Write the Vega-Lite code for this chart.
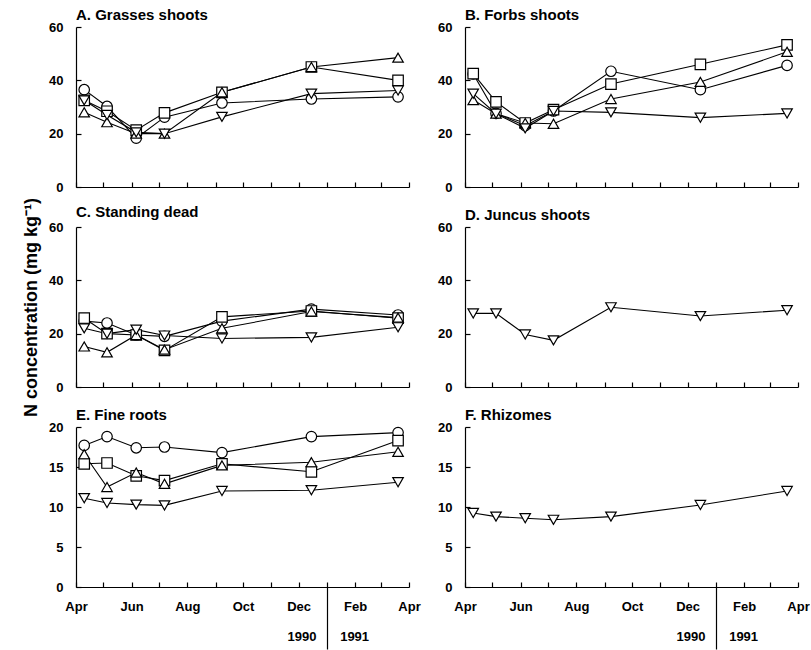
{
  "$schema": "https://vega.github.io/schema/vega-lite/v6.json",
  "padding": {"left": 22, "top": 8, "right": 0, "bottom": 0},
  "config": {
    "font": "Liberation Sans",
    "view": {"stroke": null},
    "axis": {"domainColor": "black", "domainWidth": 1.2, "tickColor": "black", "tickWidth": 1.2, "tickSize": 5, "labelColor": "black", "labelFont": "Liberation Sans", "labelFontSize": 13, "labelFontWeight": "bold", "labelPadding": 14, "grid": false, "labelOverlap": false, "labelFlush": false, "titleFont": "Liberation Sans", "titleFontSize": 18, "titleFontWeight": "bold", "titleColor": "black"},
    "title": {"anchor": "start", "frame": "group", "fontSize": 15, "fontWeight": "bold", "color": "black", "offset": -2, "font": "Liberation Sans"}
  },
  "bounds": "flush",
  "columns": 2,
  "spacing": {"row": 40, "column": 56},
  "data": {"values": [
    {"panel":"A","s":"S1","date":"1990-04-10","value":36.5},
    {"panel":"A","s":"S1","date":"1990-05-05","value":30.2},
    {"panel":"A","s":"S1","date":"1990-06-06","value":18.3},
    {"panel":"A","s":"S1","date":"1990-07-07","value":26.2},
    {"panel":"A","s":"S1","date":"1990-09-08","value":31.5},
    {"panel":"A","s":"S1","date":"1990-12-15","value":33},
    {"panel":"A","s":"S1","date":"1991-03-20","value":33.8},
    {"panel":"A","s":"S2","date":"1990-04-10","value":32.5},
    {"panel":"A","s":"S2","date":"1990-05-05","value":28.4},
    {"panel":"A","s":"S2","date":"1990-06-06","value":21.3},
    {"panel":"A","s":"S2","date":"1990-07-07","value":27.8},
    {"panel":"A","s":"S2","date":"1990-09-08","value":35.5},
    {"panel":"A","s":"S2","date":"1990-12-15","value":45},
    {"panel":"A","s":"S2","date":"1991-03-20","value":40},
    {"panel":"A","s":"S3","date":"1990-04-10","value":28},
    {"panel":"A","s":"S3","date":"1990-05-05","value":24.3},
    {"panel":"A","s":"S3","date":"1990-06-06","value":20},
    {"panel":"A","s":"S3","date":"1990-07-07","value":20},
    {"panel":"A","s":"S3","date":"1990-09-08","value":35.5},
    {"panel":"A","s":"S3","date":"1990-12-15","value":45},
    {"panel":"A","s":"S3","date":"1991-03-20","value":48.5},
    {"panel":"A","s":"S4","date":"1990-04-10","value":32.5},
    {"panel":"A","s":"S4","date":"1990-05-05","value":27},
    {"panel":"A","s":"S4","date":"1990-06-06","value":20.5},
    {"panel":"A","s":"S4","date":"1990-07-07","value":20},
    {"panel":"A","s":"S4","date":"1990-09-08","value":26.3},
    {"panel":"A","s":"S4","date":"1990-12-15","value":35},
    {"panel":"A","s":"S4","date":"1991-03-20","value":36.2},
    {"panel":"B","s":"S1","date":"1990-04-10","value":42.4},
    {"panel":"B","s":"S1","date":"1990-05-05","value":27.6},
    {"panel":"B","s":"S1","date":"1990-06-06","value":23},
    {"panel":"B","s":"S1","date":"1990-07-07","value":28.5},
    {"panel":"B","s":"S1","date":"1990-09-08","value":43.4},
    {"panel":"B","s":"S1","date":"1990-12-15","value":36.5},
    {"panel":"B","s":"S1","date":"1991-03-20","value":45.6},
    {"panel":"B","s":"S2","date":"1990-04-10","value":42.5},
    {"panel":"B","s":"S2","date":"1990-05-05","value":31.9},
    {"panel":"B","s":"S2","date":"1990-06-06","value":24},
    {"panel":"B","s":"S2","date":"1990-07-07","value":29},
    {"panel":"B","s":"S2","date":"1990-09-08","value":38.6},
    {"panel":"B","s":"S2","date":"1990-12-15","value":46},
    {"panel":"B","s":"S2","date":"1991-03-20","value":53.3},
    {"panel":"B","s":"S3","date":"1990-04-10","value":32.6},
    {"panel":"B","s":"S3","date":"1990-05-05","value":27.5},
    {"panel":"B","s":"S3","date":"1990-06-06","value":24},
    {"panel":"B","s":"S3","date":"1990-07-07","value":23.7},
    {"panel":"B","s":"S3","date":"1990-09-08","value":33},
    {"panel":"B","s":"S3","date":"1990-12-15","value":39.4},
    {"panel":"B","s":"S3","date":"1991-03-20","value":50.7},
    {"panel":"B","s":"S4","date":"1990-04-10","value":35},
    {"panel":"B","s":"S4","date":"1990-05-05","value":27.5},
    {"panel":"B","s":"S4","date":"1990-06-06","value":22},
    {"panel":"B","s":"S4","date":"1990-07-07","value":28.5},
    {"panel":"B","s":"S4","date":"1990-09-08","value":28},
    {"panel":"B","s":"S4","date":"1990-12-15","value":26},
    {"panel":"B","s":"S4","date":"1991-03-20","value":27.6},
    {"panel":"C","s":"S1","date":"1990-04-10","value":24.7},
    {"panel":"C","s":"S1","date":"1990-05-05","value":24},
    {"panel":"C","s":"S1","date":"1990-06-06","value":19.5},
    {"panel":"C","s":"S1","date":"1990-07-07","value":19},
    {"panel":"C","s":"S1","date":"1990-09-08","value":24.7},
    {"panel":"C","s":"S1","date":"1990-12-15","value":29.2},
    {"panel":"C","s":"S1","date":"1991-03-20","value":27},
    {"panel":"C","s":"S2","date":"1990-04-10","value":25.8},
    {"panel":"C","s":"S2","date":"1990-05-05","value":20},
    {"panel":"C","s":"S2","date":"1990-06-06","value":19.5},
    {"panel":"C","s":"S2","date":"1990-07-07","value":13.7},
    {"panel":"C","s":"S2","date":"1990-09-08","value":26.3},
    {"panel":"C","s":"S2","date":"1990-12-15","value":28.5},
    {"panel":"C","s":"S2","date":"1991-03-20","value":25.8},
    {"panel":"C","s":"S3","date":"1990-04-10","value":15.2},
    {"panel":"C","s":"S3","date":"1990-05-05","value":13},
    {"panel":"C","s":"S3","date":"1990-06-06","value":19.5},
    {"panel":"C","s":"S3","date":"1990-07-07","value":14},
    {"panel":"C","s":"S3","date":"1990-09-08","value":22},
    {"panel":"C","s":"S3","date":"1990-12-15","value":28.3},
    {"panel":"C","s":"S3","date":"1991-03-20","value":26},
    {"panel":"C","s":"S4","date":"1990-04-10","value":22},
    {"panel":"C","s":"S4","date":"1990-05-05","value":20},
    {"panel":"C","s":"S4","date":"1990-06-06","value":21.5},
    {"panel":"C","s":"S4","date":"1990-07-07","value":19.3},
    {"panel":"C","s":"S4","date":"1990-09-08","value":18.2},
    {"panel":"C","s":"S4","date":"1990-12-15","value":18.6},
    {"panel":"C","s":"S4","date":"1991-03-20","value":22.4},
    {"panel":"D","s":"S4","date":"1990-04-10","value":27.6},
    {"panel":"D","s":"S4","date":"1990-05-05","value":27.6},
    {"panel":"D","s":"S4","date":"1990-06-06","value":19.7},
    {"panel":"D","s":"S4","date":"1990-07-07","value":17.5},
    {"panel":"D","s":"S4","date":"1990-09-08","value":29.9},
    {"panel":"D","s":"S4","date":"1990-12-15","value":26.6},
    {"panel":"D","s":"S4","date":"1991-03-20","value":28.8},
    {"panel":"E","s":"S1","date":"1990-04-10","value":17.7},
    {"panel":"E","s":"S1","date":"1990-05-05","value":18.8},
    {"panel":"E","s":"S1","date":"1990-06-06","value":17.4},
    {"panel":"E","s":"S1","date":"1990-07-07","value":17.5},
    {"panel":"E","s":"S1","date":"1990-09-08","value":16.8},
    {"panel":"E","s":"S1","date":"1990-12-15","value":18.8},
    {"panel":"E","s":"S1","date":"1991-03-20","value":19.3},
    {"panel":"E","s":"S2","date":"1990-04-10","value":15.4},
    {"panel":"E","s":"S2","date":"1990-05-05","value":15.5},
    {"panel":"E","s":"S2","date":"1990-06-06","value":13.9},
    {"panel":"E","s":"S2","date":"1990-07-07","value":13.3},
    {"panel":"E","s":"S2","date":"1990-09-08","value":15.4},
    {"panel":"E","s":"S2","date":"1990-12-15","value":14.4},
    {"panel":"E","s":"S2","date":"1991-03-20","value":18.3},
    {"panel":"E","s":"S3","date":"1990-04-10","value":16.6},
    {"panel":"E","s":"S3","date":"1990-05-05","value":12.5},
    {"panel":"E","s":"S3","date":"1990-06-06","value":14.3},
    {"panel":"E","s":"S3","date":"1990-07-07","value":12.9},
    {"panel":"E","s":"S3","date":"1990-09-08","value":15.2},
    {"panel":"E","s":"S3","date":"1990-12-15","value":15.6},
    {"panel":"E","s":"S3","date":"1991-03-20","value":16.9},
    {"panel":"E","s":"S4","date":"1990-04-10","value":11.1},
    {"panel":"E","s":"S4","date":"1990-05-05","value":10.5},
    {"panel":"E","s":"S4","date":"1990-06-06","value":10.3},
    {"panel":"E","s":"S4","date":"1990-07-07","value":10.2},
    {"panel":"E","s":"S4","date":"1990-09-08","value":12},
    {"panel":"E","s":"S4","date":"1990-12-15","value":12.1},
    {"panel":"E","s":"S4","date":"1991-03-20","value":13.1},
    {"panel":"F","s":"S4","date":"1990-04-10","value":9.25},
    {"panel":"F","s":"S4","date":"1990-05-05","value":8.8},
    {"panel":"F","s":"S4","date":"1990-06-06","value":8.6},
    {"panel":"F","s":"S4","date":"1990-07-07","value":8.4},
    {"panel":"F","s":"S4","date":"1990-09-08","value":8.8},
    {"panel":"F","s":"S4","date":"1990-12-15","value":10.25},
    {"panel":"F","s":"S4","date":"1991-03-20","value":12}
  ]},
  "concat": [
    {
      "title": "A. Grasses shoots",
      "width": 333, "height": 160,
      "transform": [{"filter": "datum.panel == 'A'"}],
      "resolve": {"axis": {"x": "independent", "y": "independent"}},
      "layer": [
        {"mark": {"type": "line", "color": "black", "strokeWidth": 1.1},
         "encoding": {
           "x": {"field": "date", "type": "temporal", "scale": {"type": "utc", "domain": [{"year":1990,"month":4,"date":1,"utc":true},{"year":1991,"month":4,"date":1,"utc":true}]}, "axis": {"orient": "bottom", "ticks": false, "labels": false, "title": null}},
           "y": {"field": "value", "type": "quantitative", "scale": {"domain": [0, 60]}, "axis": {"orient": "left", "values": [0, 20, 40, 60], "ticks": false, "labelPadding": 13, "title": null}},
           "detail": {"field": "s"}}},
        {"mark": {"type": "point", "filled": true, "fill": "white", "stroke": "black", "strokeWidth": 1.2, "size": 110, "opacity": 1},
         "encoding": {
           "x": {"field": "date", "type": "temporal", "axis": {"orient": "bottom", "offset": -5, "domain": false, "labels": false, "title": null, "values": [{"year":1990,"month":4,"date":1,"utc":true},{"year":1990,"month":5,"date":1,"utc":true},{"year":1990,"month":6,"date":1,"utc":true},{"year":1990,"month":7,"date":1,"utc":true},{"year":1990,"month":8,"date":1,"utc":true},{"year":1990,"month":9,"date":1,"utc":true},{"year":1990,"month":10,"date":1,"utc":true},{"year":1990,"month":11,"date":1,"utc":true},{"year":1990,"month":12,"date":1,"utc":true},{"year":1991,"month":1,"date":1,"utc":true},{"year":1991,"month":2,"date":1,"utc":true},{"year":1991,"month":3,"date":1,"utc":true},{"year":1991,"month":4,"date":1,"utc":true}]}},
           "y": {"field": "value", "type": "quantitative", "axis": {"orient": "left", "offset": -5, "domain": false, "labels": false, "title": null, "values": [0, 20, 40, 60]}},
           "shape": {"field": "s", "scale": {"domain": ["S1","S2","S3","S4"], "range": ["circle","square","triangle-up","triangle-down"]}, "legend": null}}}
      ]
    },
    {
      "title": "B. Forbs shoots",
      "width": 333, "height": 160,
      "transform": [{"filter": "datum.panel == 'B'"}],
      "resolve": {"axis": {"x": "independent", "y": "independent"}},
      "layer": [
        {"mark": {"type": "line", "color": "black", "strokeWidth": 1.1},
         "encoding": {
           "x": {"field": "date", "type": "temporal", "scale": {"type": "utc", "domain": [{"year":1990,"month":4,"date":1,"utc":true},{"year":1991,"month":4,"date":1,"utc":true}]}, "axis": {"orient": "bottom", "ticks": false, "labels": false, "title": null}},
           "y": {"field": "value", "type": "quantitative", "scale": {"domain": [0, 60]}, "axis": {"orient": "left", "values": [0, 20, 40, 60], "ticks": false, "labelPadding": 13, "title": null}},
           "detail": {"field": "s"}}},
        {"mark": {"type": "point", "filled": true, "fill": "white", "stroke": "black", "strokeWidth": 1.2, "size": 110, "opacity": 1},
         "encoding": {
           "x": {"field": "date", "type": "temporal", "axis": {"orient": "bottom", "offset": -5, "domain": false, "labels": false, "title": null, "values": [{"year":1990,"month":4,"date":1,"utc":true},{"year":1990,"month":5,"date":1,"utc":true},{"year":1990,"month":6,"date":1,"utc":true},{"year":1990,"month":7,"date":1,"utc":true},{"year":1990,"month":8,"date":1,"utc":true},{"year":1990,"month":9,"date":1,"utc":true},{"year":1990,"month":10,"date":1,"utc":true},{"year":1990,"month":11,"date":1,"utc":true},{"year":1990,"month":12,"date":1,"utc":true},{"year":1991,"month":1,"date":1,"utc":true},{"year":1991,"month":2,"date":1,"utc":true},{"year":1991,"month":3,"date":1,"utc":true},{"year":1991,"month":4,"date":1,"utc":true}]}},
           "y": {"field": "value", "type": "quantitative", "axis": {"orient": "left", "offset": -5, "domain": false, "labels": false, "title": null, "values": [0, 20, 40, 60]}},
           "shape": {"field": "s", "scale": {"domain": ["S1","S2","S3","S4"], "range": ["circle","square","triangle-up","triangle-down"]}, "legend": null}}}
      ]
    },
    {
      "title": {"text": "C. Standing dead", "offset": -23},
      "width": 333, "height": 160,
      "transform": [{"filter": "datum.panel == 'C'"}],
      "resolve": {"axis": {"x": "independent", "y": "independent"}},
      "layer": [
        {"mark": {"type": "line", "color": "black", "strokeWidth": 1.1},
         "encoding": {
           "x": {"field": "date", "type": "temporal", "scale": {"type": "utc", "domain": [{"year":1990,"month":4,"date":1,"utc":true},{"year":1991,"month":4,"date":1,"utc":true}]}, "axis": {"orient": "bottom", "ticks": false, "labels": false, "title": null}},
           "y": {"field": "value", "type": "quantitative", "scale": {"domain": [0, 60]}, "axis": {"orient": "left", "values": [0, 20, 40, 60], "ticks": false, "labelPadding": 13, "title": "N concentration (mg kg⁻¹)", "titlePadding": 8}},
           "detail": {"field": "s"}}},
        {"mark": {"type": "point", "filled": true, "fill": "white", "stroke": "black", "strokeWidth": 1.2, "size": 110, "opacity": 1},
         "encoding": {
           "x": {"field": "date", "type": "temporal", "axis": {"orient": "bottom", "offset": -5, "domain": false, "labels": false, "title": null, "values": [{"year":1990,"month":4,"date":1,"utc":true},{"year":1990,"month":5,"date":1,"utc":true},{"year":1990,"month":6,"date":1,"utc":true},{"year":1990,"month":7,"date":1,"utc":true},{"year":1990,"month":8,"date":1,"utc":true},{"year":1990,"month":9,"date":1,"utc":true},{"year":1990,"month":10,"date":1,"utc":true},{"year":1990,"month":11,"date":1,"utc":true},{"year":1990,"month":12,"date":1,"utc":true},{"year":1991,"month":1,"date":1,"utc":true},{"year":1991,"month":2,"date":1,"utc":true},{"year":1991,"month":3,"date":1,"utc":true},{"year":1991,"month":4,"date":1,"utc":true}]}},
           "y": {"field": "value", "type": "quantitative", "axis": {"orient": "left", "offset": -5, "domain": false, "labels": false, "title": null, "values": [0, 20, 40, 60]}},
           "shape": {"field": "s", "scale": {"domain": ["S1","S2","S3","S4"], "range": ["circle","square","triangle-up","triangle-down"]}, "legend": null}}}
      ]
    },
    {
      "title": "D. Juncus shoots",
      "width": 333, "height": 160,
      "transform": [{"filter": "datum.panel == 'D'"}],
      "resolve": {"axis": {"x": "independent", "y": "independent"}},
      "layer": [
        {"mark": {"type": "line", "color": "black", "strokeWidth": 1.1},
         "encoding": {
           "x": {"field": "date", "type": "temporal", "scale": {"type": "utc", "domain": [{"year":1990,"month":4,"date":1,"utc":true},{"year":1991,"month":4,"date":1,"utc":true}]}, "axis": {"orient": "bottom", "ticks": false, "labels": false, "title": null}},
           "y": {"field": "value", "type": "quantitative", "scale": {"domain": [0, 60]}, "axis": {"orient": "left", "values": [0, 20, 40, 60], "ticks": false, "labelPadding": 13, "title": null}},
           "detail": {"field": "s"}}},
        {"mark": {"type": "point", "filled": true, "fill": "white", "stroke": "black", "strokeWidth": 1.2, "size": 110, "opacity": 1},
         "encoding": {
           "x": {"field": "date", "type": "temporal", "axis": {"orient": "bottom", "offset": -5, "domain": false, "labels": false, "title": null, "values": [{"year":1990,"month":4,"date":1,"utc":true},{"year":1990,"month":5,"date":1,"utc":true},{"year":1990,"month":6,"date":1,"utc":true},{"year":1990,"month":7,"date":1,"utc":true},{"year":1990,"month":8,"date":1,"utc":true},{"year":1990,"month":9,"date":1,"utc":true},{"year":1990,"month":10,"date":1,"utc":true},{"year":1990,"month":11,"date":1,"utc":true},{"year":1990,"month":12,"date":1,"utc":true},{"year":1991,"month":1,"date":1,"utc":true},{"year":1991,"month":2,"date":1,"utc":true},{"year":1991,"month":3,"date":1,"utc":true},{"year":1991,"month":4,"date":1,"utc":true}]}},
           "y": {"field": "value", "type": "quantitative", "axis": {"orient": "left", "offset": -5, "domain": false, "labels": false, "title": null, "values": [0, 20, 40, 60]}},
           "shape": {"field": "s", "scale": {"domain": ["S1","S2","S3","S4"], "range": ["circle","square","triangle-up","triangle-down"]}, "legend": null}}}
      ]
    },
    {
      "title": "E. Fine roots",
      "width": 333, "height": 160,
      "transform": [{"filter": "datum.panel == 'E'"}],
      "resolve": {"axis": {"x": "independent", "y": "independent"}},
      "layer": [
        {"mark": {"type": "line", "color": "black", "strokeWidth": 1.1},
         "encoding": {
           "x": {"field": "date", "type": "temporal", "scale": {"type": "utc", "domain": [{"year":1990,"month":4,"date":1,"utc":true},{"year":1991,"month":4,"date":1,"utc":true}]}, "axis": {"orient": "bottom", "values": [{"year":1990,"month":12,"date":20,"utc":true},{"year":1991,"month":1,"date":1,"utc":true},{"year":1991,"month":1,"date":15,"utc":true}], "labelExpr": "utcmonth(datum.value) == 0 && utcdate(datum.value) == 1 ? '' : utcFormat(datum.value, '%Y')", "tickSize": {"condition": {"test": "utcmonth(datum.value) == 0 && utcdate(datum.value) == 1", "value": 62}, "value": 0}, "labelAlign": {"condition": {"test": "utcyear(datum.value) == 1990", "value": "right"}, "value": "left"}, "labelPadding": 43, "title": null}},
           "y": {"field": "value", "type": "quantitative", "scale": {"domain": [0, 20]}, "axis": {"orient": "left", "values": [0, 5, 10, 15, 20], "ticks": false, "labelPadding": 13, "title": null}},
           "detail": {"field": "s"}}},
        {"mark": {"type": "point", "filled": true, "fill": "white", "stroke": "black", "strokeWidth": 1.2, "size": 110, "opacity": 1},
         "encoding": {
           "x": {"field": "date", "type": "temporal", "axis": {"orient": "bottom", "offset": -5, "domain": false, "labelPadding": 13, "labelExpr": "utcmonth(datum.value) % 2 == 1 ? utcFormat(datum.value, '%b') : ''", "title": null, "values": [{"year":1990,"month":4,"date":1,"utc":true},{"year":1990,"month":5,"date":1,"utc":true},{"year":1990,"month":6,"date":1,"utc":true},{"year":1990,"month":7,"date":1,"utc":true},{"year":1990,"month":8,"date":1,"utc":true},{"year":1990,"month":9,"date":1,"utc":true},{"year":1990,"month":10,"date":1,"utc":true},{"year":1990,"month":11,"date":1,"utc":true},{"year":1990,"month":12,"date":1,"utc":true},{"year":1991,"month":1,"date":1,"utc":true},{"year":1991,"month":2,"date":1,"utc":true},{"year":1991,"month":3,"date":1,"utc":true},{"year":1991,"month":4,"date":1,"utc":true}]}},
           "y": {"field": "value", "type": "quantitative", "axis": {"orient": "left", "offset": -5, "domain": false, "labels": false, "title": null, "values": [0, 5, 10, 15, 20]}},
           "shape": {"field": "s", "scale": {"domain": ["S1","S2","S3","S4"], "range": ["circle","square","triangle-up","triangle-down"]}, "legend": null}}}
      ]
    },
    {
      "title": "F. Rhizomes",
      "width": 333, "height": 160,
      "transform": [{"filter": "datum.panel == 'F'"}],
      "resolve": {"axis": {"x": "independent", "y": "independent"}},
      "layer": [
        {"mark": {"type": "line", "color": "black", "strokeWidth": 1.1},
         "encoding": {
           "x": {"field": "date", "type": "temporal", "scale": {"type": "utc", "domain": [{"year":1990,"month":4,"date":1,"utc":true},{"year":1991,"month":4,"date":1,"utc":true}]}, "axis": {"orient": "bottom", "values": [{"year":1990,"month":12,"date":20,"utc":true},{"year":1991,"month":1,"date":1,"utc":true},{"year":1991,"month":1,"date":15,"utc":true}], "labelExpr": "utcmonth(datum.value) == 0 && utcdate(datum.value) == 1 ? '' : utcFormat(datum.value, '%Y')", "tickSize": {"condition": {"test": "utcmonth(datum.value) == 0 && utcdate(datum.value) == 1", "value": 62}, "value": 0}, "labelAlign": {"condition": {"test": "utcyear(datum.value) == 1990", "value": "right"}, "value": "left"}, "labelPadding": 43, "title": null}},
           "y": {"field": "value", "type": "quantitative", "scale": {"domain": [0, 20]}, "axis": {"orient": "left", "values": [0, 5, 10, 15, 20], "ticks": false, "labelPadding": 13, "title": null}},
           "detail": {"field": "s"}}},
        {"mark": {"type": "point", "filled": true, "fill": "white", "stroke": "black", "strokeWidth": 1.2, "size": 110, "opacity": 1},
         "encoding": {
           "x": {"field": "date", "type": "temporal", "axis": {"orient": "bottom", "offset": -5, "domain": false, "labelPadding": 13, "labelExpr": "utcmonth(datum.value) % 2 == 1 ? utcFormat(datum.value, '%b') : ''", "title": null, "values": [{"year":1990,"month":4,"date":1,"utc":true},{"year":1990,"month":5,"date":1,"utc":true},{"year":1990,"month":6,"date":1,"utc":true},{"year":1990,"month":7,"date":1,"utc":true},{"year":1990,"month":8,"date":1,"utc":true},{"year":1990,"month":9,"date":1,"utc":true},{"year":1990,"month":10,"date":1,"utc":true},{"year":1990,"month":11,"date":1,"utc":true},{"year":1990,"month":12,"date":1,"utc":true},{"year":1991,"month":1,"date":1,"utc":true},{"year":1991,"month":2,"date":1,"utc":true},{"year":1991,"month":3,"date":1,"utc":true},{"year":1991,"month":4,"date":1,"utc":true}]}},
           "y": {"field": "value", "type": "quantitative", "axis": {"orient": "left", "offset": -5, "domain": false, "labels": false, "title": null, "values": [0, 5, 10, 15, 20]}},
           "shape": {"field": "s", "scale": {"domain": ["S1","S2","S3","S4"], "range": ["circle","square","triangle-up","triangle-down"]}, "legend": null}}}
      ]
    }
  ]
}
